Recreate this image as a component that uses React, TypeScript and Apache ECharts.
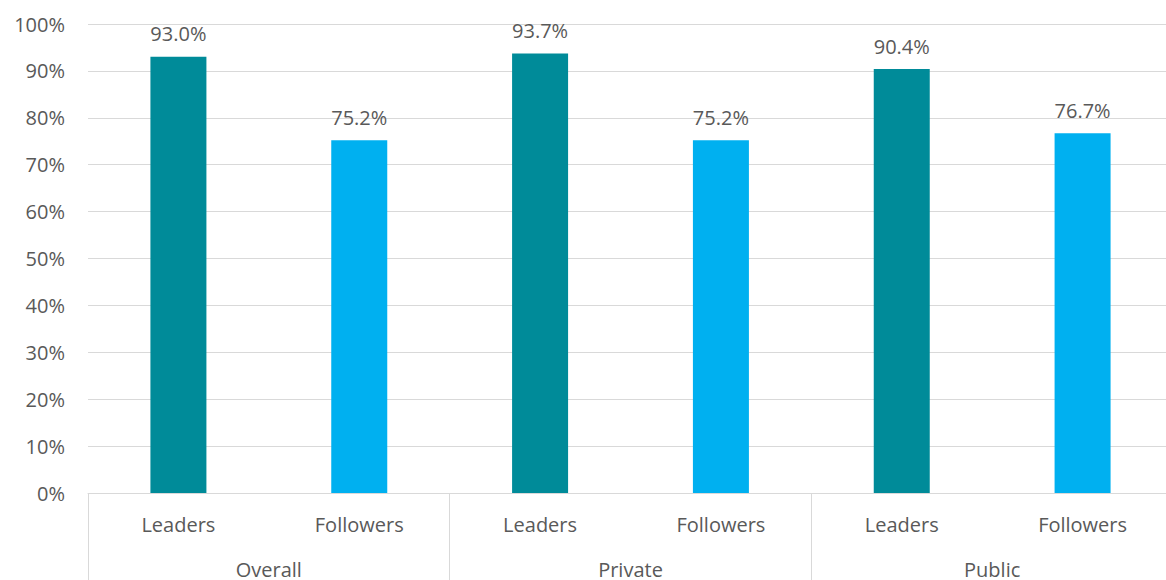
import React, { useEffect, useRef } from "react";
import * as echarts from "echarts";

const categories = ["Leaders", "Followers", "Leaders", "Followers", "Leaders", "Followers"];
const groups = ["Overall", "Private", "Public"];
const values = [93.0, 75.2, 93.7, 75.2, 90.4, 76.7];
const yTicks = [0, 10, 20, 30, 40, 50, 60, 70, 80, 90, 100];

const LEADER_COLOR = "#008B99";
const FOLLOWER_COLOR = "#00B0F0";
const TEXT = "#595959";
const GRID = "#D9D9D9";
const FONT = "Open Sans";

export default function App() {
  const ref = useRef<HTMLDivElement>(null);
  useEffect(() => {
    if (!ref.current) return;
    const chart = echarts.init(ref.current, undefined, { renderer: "svg" });
    chart.setOption({
      animation: false,
      textStyle: { fontFamily: FONT },
      grid: {
        left: 88,
        right: -7,
        top: 24,
        bottom: 87,
        containLabel: false,
        outerBoundsMode: "none",
      },
      xAxis: [
        {
          type: "category",
          data: categories,
          position: "bottom",
          axisLine: { show: true, lineStyle: { color: GRID, width: 1 } },
          axisTick: { show: false },
          axisLabel: { color: TEXT, fontSize: 20, fontFamily: FONT, margin: 21, interval: 0 },
        },
        {
          type: "category",
          data: groups,
          position: "bottom",
          axisLine: { show: false },
          axisTick: { show: true, length: 90, lineStyle: { color: GRID, width: 1 } },
          axisLabel: { color: TEXT, fontSize: 20, fontFamily: FONT, margin: 66, interval: 0 },
        },
      ],
      yAxis: {
        type: "value",
        min: 0,
        max: 100,
        interval: 10,
        axisLine: { show: false },
        axisTick: { show: false },
        splitLine: { lineStyle: { color: GRID, width: 1 } },
        axisLabel: {
          color: TEXT,
          fontSize: 20,
          fontFamily: FONT,
          margin: 23,
          formatter: (v: number) => (yTicks.includes(v) ? `${v}%` : ""),
        },
      },
      series: [
        {
          type: "bar",
          xAxisIndex: 0,
          barWidth: 56,
          data: values.map((v, i) => ({
            value: v,
            itemStyle: { color: i % 2 === 0 ? LEADER_COLOR : FOLLOWER_COLOR },
          })),
          label: {
            show: true,
            position: "top",
            distance: 13,
            color: TEXT,
            fontSize: 20,
            fontFamily: FONT,
            formatter: (p: any) => `${Number(p.value).toFixed(1)}%`,
          },
        },
      ],
    });
    return () => chart.dispose();
  }, []);
  return (
    <div style={{ width: 1166, height: 580, position: "absolute", left: 0, top: 0, overflow: "hidden" }}>
      <div ref={ref} style={{ width: 1166, height: 580 }} />
    </div>
  );
}
